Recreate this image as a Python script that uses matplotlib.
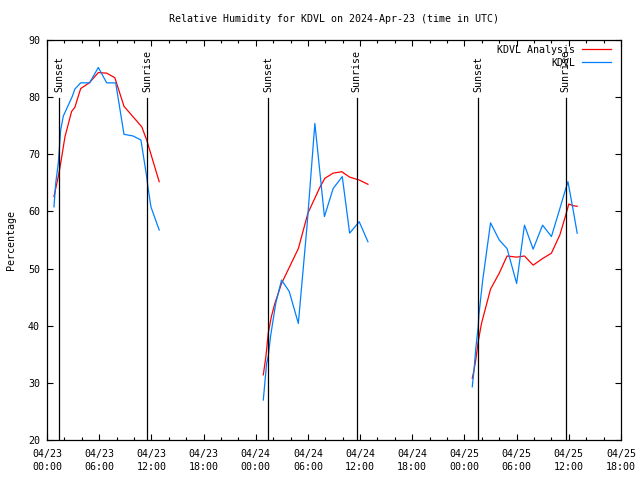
import matplotlib
matplotlib.use("Agg")
import matplotlib.pyplot as plt

# hours since 2024-04-23 00:00 UTC
obs_t = [0.8, 1.0, 1.3, 1.57, 1.88, 2.9, 3.2, 3.87, 4.9, 5.9, 6.86, 7.9, 8.85, 9.9, 10.8, 11.46, 11.6, 11.95, 12.9,
         None,
         24.87, 25.25, 25.44, 25.7, 26.3, 26.97, 27.85, 28.9, 29.9, 30.8, 31.9, 32.9, 33.95, 34.8, 35.9, 36.9,
         None,
         48.9, 49.1, 49.3, 49.58, 49.66, 50.1, 51.0, 52.0, 52.9, 54.0, 54.9, 55.9, 56.98, 58.0, 58.97, 59.6, 59.9, 60.5, 60.96]
obs_rh = [60.8, 64.9, 68.5, 74.2, 76.7, 80.1, 81.4, 82.5, 82.5, 85.2, 82.5, 82.5, 73.5, 73.2, 72.5, 66.1, 64.3, 60.8, 56.75,
          None,
          27.0, 33.4, 34.6, 38.1, 43.9, 48.0, 46.0, 40.4, 57.5, 75.4, 59.1, 64.0, 66.1, 56.2, 58.2, 54.7,
          None,
          29.3, 32.25, 36.0, 39.8, 41.9, 48.0, 58.0, 55.0, 53.5, 47.4, 57.6, 53.4, 57.6, 55.6, 60.5, 63.75, 65.2, 60.25, 56.2]

ana_t = [0.8, 1.3, 1.57, 2.07, 2.83, 3.2, 3.87, 4.86, 5.9, 6.86, 7.8, 8.85, 10.9, 11.46, 12.9,
         None,
         24.87, 25.17, 25.44, 25.8, 26.2, 26.97, 28.9, 30.0, 31.4, 31.95, 32.9, 33.9, 34.8, 35.9, 36.9,
         None,
         48.9, 49.1, 49.3, 49.58, 49.96, 51.0, 52.0, 52.9, 54.0, 54.9, 55.9, 56.98, 58.0, 58.97, 59.6, 60.0, 60.5, 60.96]
ana_rh = [62.6, 66.1, 68.4, 73.1, 77.5, 78.2, 81.5, 82.5, 84.3, 84.2, 83.4, 78.4, 74.8, 72.5, 65.2,
          None,
          31.4, 34.6, 38.7, 41.6, 43.9, 47.4, 53.5, 59.7, 64.3, 65.8, 66.7, 66.95, 66.0, 65.5, 64.75,
          None,
          30.8, 32.25, 34.0, 37.2, 40.4, 46.4, 49.2, 52.2, 52.0, 52.2, 50.6, 51.75, 52.7, 55.9, 59.1, 61.3, 61.0, 60.9]

sunset_t = [1.42, 25.45, 49.57]
sunrise_t = [11.53, 35.6, 59.62]

xtick_pos = [0, 6, 12, 18, 24, 30, 36, 42, 48, 54, 60, 66]
xtick_labels = ["04/23\n00:00", "04/23\n06:00", "04/23\n12:00", "04/23\n18:00",
                "04/24\n00:00", "04/24\n06:00", "04/24\n12:00", "04/24\n18:00",
                "04/25\n00:00", "04/25\n06:00", "04/25\n12:00", "04/25\n18:00"]
ytick_pos = [20, 30, 40, 50, 60, 70, 80, 90]

FONT = "DejaVu Sans Mono"
FS = 7.2
plt.rcParams['font.family'] = FONT
plt.rcParams['font.size'] = FS

def nan(v):
    return float('nan') if v is None else v

fig = plt.figure(figsize=(6.4, 4.8), dpi=100)
ax = fig.add_axes([47/640, 1-440/480, 574/640, 400/480])

ax.plot([nan(v) for v in ana_t], [nan(v) for v in ana_rh], color='#ff0000', lw=0.9, label='KDVL Analysis')
ax.plot([nan(v) for v in obs_t], [nan(v) for v in obs_rh], color='#0080ff', lw=0.9, label='KDVL')

for t in sunset_t:
    ax.plot([t, t], [20, 79.8], color='black', lw=0.9)
    ax.text(t, 80.9, "Sunset", rotation=90, ha='center', va='bottom', fontsize=FS)
for t in sunrise_t:
    ax.plot([t, t], [20, 79.8], color='black', lw=0.9)
    ax.text(t, 80.9, "Sunrise", rotation=90, ha='center', va='bottom', fontsize=FS)

ax.set_xlim(0, 66)
ax.set_ylim(20, 90)
ax.set_xticks(xtick_pos)
ax.set_xticklabels(xtick_labels, linespacing=1.35)
ax.set_xticks([h for h in range(0, 67, 2) if h % 6 != 0], minor=True)
ax.set_yticks(ytick_pos)
ax.tick_params(axis='both', which='both', direction='in', top=True, right=True, width=0.8, labelsize=FS)
ax.tick_params(axis='both', which='major', length=4.5)
ax.tick_params(axis='both', which='minor', length=2.5)
ax.tick_params(axis='x', which='major', pad=6.5)
ax.tick_params(axis='y', which='major', pad=5)
for s in ax.spines.values():
    s.set_linewidth(0.9)

leg = ax.legend(loc='upper right', bbox_to_anchor=(0.983, 0.988), frameon=False, markerfirst=False,
                handlelength=2.9, handletextpad=0.7, labelspacing=0.3, borderpad=0, borderaxespad=0,
                fontsize=FS)

fig.text(334/640, 1-19/480, "Relative Humidity for KDVL on 2024-Apr-23 (time in UTC)",
         ha='center', va='center', fontsize=FS)
fig.text(11/640, 0.5, "Percentage", rotation=90, ha='center', va='center', fontsize=FS)

fig.savefig("out.png", dpi=100)
